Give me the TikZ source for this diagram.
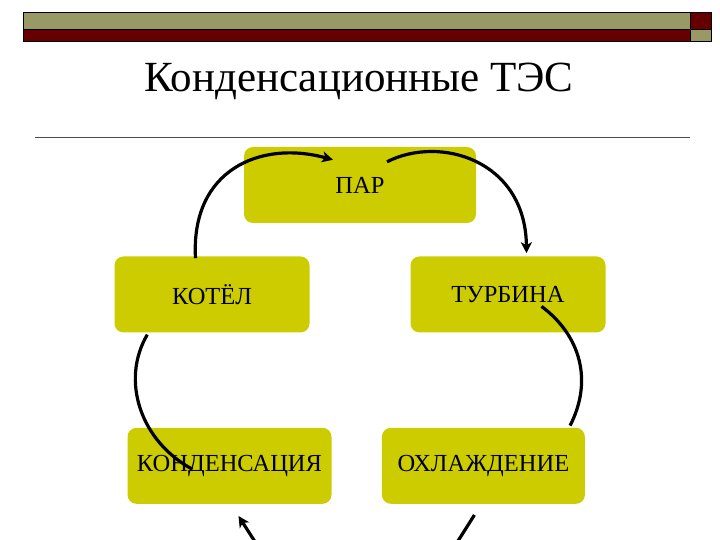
\documentclass[tikz,border=0pt]{standalone}
\usepackage{fontspec}
\setmainfont{Liberation Serif}
\newfontfamily\slidefont{Liberation Serif}
\usepackage{xcolor}
\usetikzlibrary{arrows.meta,positioning}

\definecolor{stageyellow}{RGB}{204,204,0}
\definecolor{barolive}{RGB}{153,153,102}
\definecolor{barred}{RGB}{102,0,0}

\begin{document}
\begin{tikzpicture}[
    x=1pt, y=-1pt,
    node distance=33pt and 50pt,
    stage/.style={rectangle, rounded corners=9pt, fill=stageyellow, minimum height=76pt, inner sep=0pt, font=\slidefont\fontsize{24.5}{28}\selectfont},
    flow/.style={line width=3.2pt, -{Stealth[length=11pt, width=11pt, inset=3pt]}},
    plainflow/.style={line width=3.2pt}
]
\useasboundingbox (0,0) rectangle (720,540);
\clip (0,0) rectangle (720,540);

% Header bars
\draw[fill=barolive, line width=0.8pt] (23,12) rectangle (690,29.5);
\draw[fill=barred, line width=0.8pt] (23,29.5) rectangle (690,41);
\draw[fill=barred, line width=0.8pt] (690,12) rectangle (711,29.5);
\draw[fill=barolive, line width=0.8pt] (690,29.5) rectangle (711,41);

% Title
\node[anchor=base, font=\slidefont\fontsize{43}{50}\selectfont] (title) at (359,92) {Конденсационные ТЭС};
\draw[line width=0.8pt, black!70] (35,137.5) -- (690,137.5);

% Nodes
\node[stage, minimum width=232pt] (par) at (360,185) {ПАР};
\node[stage, minimum width=195pt, below=33pt of par, xshift=-148pt] (kotel) {КОТЁЛ};
\node[stage, minimum width=195pt, below=33pt of par, xshift=148pt] (turbina) {ТУРБИНА};
\node[stage, minimum width=204pt, below=95pt of kotel, xshift=17.5pt] (kond) {КОНДЕНСАЦИЯ};
\node[stage, minimum width=203pt, right=50pt of kond] (ohl) {ОХЛАЖДЕНИЕ};

% Off-picture ends
\coordinate (offleft) at (268,562);
\coordinate (offright) at (446,560);

% Arrows
\draw[flow] ([xshift=-16.5pt, yshift=-2pt]kotel.north) .. controls +(-5,-88) and +(-73,-20) .. ([xshift=-27pt, yshift=-13pt]par.north);
\draw[flow] ([xshift=27pt, yshift=-15pt]par.north) .. controls +(53,-27) and +(-1,-93) .. ([xshift=18.5pt, yshift=3pt]turbina.north);
\draw[plainflow] ([xshift=33.5pt, yshift=-12pt]turbina.center) .. controls +(39,29) and +(23,-45) .. ([xshift=-15pt, yshift=2pt]ohl.north east);
\draw[plainflow] ([xshift=-37pt, yshift=-3.5pt]kond.center) .. controls +(-52,-28) and +(-27,46) .. ([xshift=33pt, yshift=-2pt]kotel.south west);
\draw[plainflow] ([xshift=-9pt, yshift=-11pt]ohl.south) -- (offright);
\draw[flow] (offleft) -- ([xshift=9pt, yshift=-12pt]kond.south);

\end{tikzpicture}
\end{document}
